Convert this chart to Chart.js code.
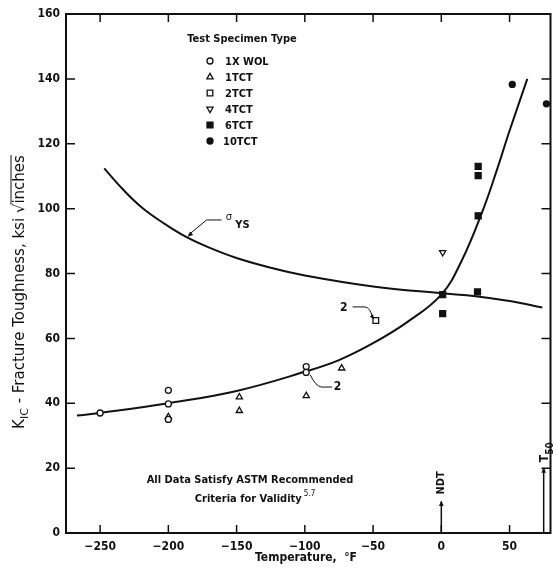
<!DOCTYPE html>
<html>
<head>
<meta charset="utf-8">
<script src="https://cdn.jsdelivr.net/npm/chart.js@4.4.0/dist/chart.umd.min.js"></script>
<style>
html, body { margin: 0; padding: 0; background: #fff; }
</style>
</head>
<body>
<canvas id="chart" width="556" height="572"></canvas>
<script>
// axis ticks
const xTicks = [-250, -200, -150, -100, -50, 0, 50];
const yTicks = [0, 20, 40, 60, 80, 100, 120, 140, 160];

// test specimen data, temperature (F) and K_IC (ksi sqrt(in))
const wolT = [-250, -200, -200, -200, -99, -99];
const wolK = [37, 39.8, 44, 35, 51.3, 49.5];
const tct1T = [-200, -148, -148, -99, -73];
const tct1K = [35.8, 41.9, 37.7, 42.3, 50.8];
const tct2T = [-48];
const tct2K = [65.5];
const tct4T = [1];
const tct4K = [86.5];
const tct6T = [1, 1, 27, 27, 27, 26.5];
const tct6K = [73.5, 67.6, 113, 110.2, 97.8, 74.3];
const tct10T = [52, 77];
const tct10K = [138.3, 132.3];

// fitted K_IC curve
const kicT = [-267, -250, -200, -150, -100, -75, -50, -25, 0, 15, 30, 40, 50, 63];
const kicK = [36.2, 37, 40, 43.8, 49.7, 53.3, 58.5, 65, 73.5, 84, 99, 111, 124, 140];
// yield strength curve
const ysT = [-247, -233, -219, -203, -187, -170, -150, -125, -100, -50, 0, 25, 50, 74];
const ysK = [112.4, 105.8, 100.2, 95.4, 91.3, 88, 84.8, 81.8, 79.4, 76, 73.9, 73, 71.5, 69.5];

// reference temperatures
const ndtT = 0, ndtK = 9.7;
const t50T = 75, t50K = 20;

const FONT = '"DejaVu Sans Condensed", "Liberation Sans Narrow", sans-serif';
const INK = '#111';

const pts = (xs, ys) => xs.map((x, i) => ({ x: x, y: ys[i] }));

const specimens = [
    { label: '1X WOL', xs: wolT, ys: wolK, pointStyle: 'circle', radius: 3, fill: '#fff', rotation: 0 },
    { label: '1TCT', xs: tct1T, ys: tct1K, pointStyle: 'triangle', radius: 3.6, fill: '#fff', rotation: 0 },
    { label: '2TCT', xs: tct2T, ys: tct2K, pointStyle: 'rect', radius: 4, fill: '#fff', rotation: 0 },
    { label: '4TCT', xs: tct4T, ys: tct4K, pointStyle: 'triangle', radius: 3.6, fill: '#fff', rotation: 180 },
    { label: '6TCT', xs: tct6T, ys: tct6K, pointStyle: 'rect', radius: 4.2, fill: INK, rotation: 0 },
    { label: '10TCT', xs: tct10T, ys: tct10K, pointStyle: 'circle', radius: 3, fill: INK, rotation: 0 }
];

const curveSet = (xs, ys) => ({
    data: pts(xs, ys),
    showLine: true,
    pointRadius: 0,
    borderColor: INK,
    borderWidth: 2,
    tension: 0.4,
    order: 2
});

const datasets = [curveSet(kicT, kicK), curveSet(ysT, ysK)];
specimens.forEach(s => {
    datasets.push({
        label: s.label,
        data: pts(s.xs, s.ys),
        pointStyle: s.pointStyle,
        pointRadius: s.radius,
        pointRotation: s.rotation,
        pointBackgroundColor: s.fill,
        pointBorderColor: INK,
        pointBorderWidth: 1.3,
        order: 1
    });
});

function arrowHead(ctx, x, y, ang, len) {
    ctx.beginPath();
    ctx.moveTo(x, y);
    ctx.lineTo(x - len * Math.cos(ang - 0.4), y - len * Math.sin(ang - 0.4));
    ctx.lineTo(x - len * Math.cos(ang + 0.4), y - len * Math.sin(ang + 0.4));
    ctx.closePath();
    ctx.fill();
}

const decor = {
    id: 'decor',
    beforeDatasetsDraw(chart) {
        const ctx = chart.ctx;
        const a = chart.chartArea;
        const xs = chart.scales.x, ys = chart.scales.y;
        ctx.save();
        ctx.strokeStyle = INK;
        ctx.lineWidth = 2;
        ctx.strokeRect(a.left, a.top, a.right - a.left, a.bottom - a.top);
        ctx.lineWidth = 1.5;
        ctx.beginPath();
        xTicks.forEach(v => {
            const px = xs.getPixelForValue(v);
            ctx.moveTo(px, a.bottom); ctx.lineTo(px, a.bottom - 8);
            ctx.moveTo(px, a.top); ctx.lineTo(px, a.top + 8);
        });
        yTicks.forEach(v => {
            if (v === 0 || v === 160) return;
            const py = ys.getPixelForValue(v);
            ctx.moveTo(a.left, py); ctx.lineTo(a.left + 9, py);
            ctx.moveTo(a.right, py); ctx.lineTo(a.right - 9, py);
        });
        ctx.stroke();
        ctx.restore();
    },
    afterDatasetsDraw(chart) {
        const ctx = chart.ctx;
        const a = chart.chartArea;
        const xs = chart.scales.x, ys = chart.scales.y;
        const X = v => xs.getPixelForValue(v);
        const Y = v => ys.getPixelForValue(v);
        ctx.save();
        ctx.fillStyle = INK;
        ctx.strokeStyle = INK;

        // legend
        ctx.font = 'bold 11px ' + FONT;
        ctx.textAlign = 'center';
        ctx.textBaseline = 'middle';
        ctx.fillText('Test Specimen Type', a.left + 176, a.top + 25);
        ctx.textAlign = 'left';
        specimens.forEach((s, i) => {
            const y = a.top + 47 + i * 16;
            ctx.fillStyle = s.fill;
            ctx.lineWidth = 1.3;
            Chart.helpers.drawPoint(ctx, { pointStyle: s.pointStyle, radius: s.radius, rotation: s.rotation, borderWidth: 1.3 }, a.left + 144, y);
            ctx.fillStyle = INK;
            ctx.fillText(s.label, a.left + (s.label === '10TCT' ? 157 : 159), y + 1);
        });

        // sigma YS leader
        ctx.lineWidth = 1;
        ctx.beginPath();
        ctx.moveTo(X(-184), Y(92.3));
        ctx.lineTo(X(-172), Y(96.5));
        ctx.lineTo(X(-161), Y(96.5));
        ctx.stroke();
        arrowHead(ctx, X(-186), Y(91.3), Math.atan2(Y(91.3) - Y(96.5), X(-186) - X(-172)), 6);
        ctx.font = '11px ' + FONT;
        ctx.textAlign = 'left';
        ctx.fillText('\u03c3', X(-158), Y(97.5));
        ctx.font = 'bold 11px ' + FONT;
        ctx.fillText('YS', X(-151), Y(95));

        // "2" leaders
        ctx.lineWidth = 1;
        ctx.beginPath();
        ctx.moveTo(X(-65), Y(69.7));
        ctx.lineTo(X(-56), Y(69.7));
        ctx.quadraticCurveTo(X(-52), Y(69.5), X(-50.5), Y(66.5));
        ctx.stroke();
        arrowHead(ctx, X(-49.2), Y(65.9), Math.PI * 0.3, 5);
        ctx.beginPath();
        ctx.moveTo(X(-80), Y(45));
        ctx.lineTo(X(-88), Y(45));
        ctx.quadraticCurveTo(X(-92), Y(45.3), X(-96), Y(48.7));
        ctx.stroke();
        ctx.font = 'bold 12px ' + FONT;
        ctx.textAlign = 'center';
        ctx.fillText('2', X(-71.5), Y(69.3));
        ctx.fillText('2', X(-76), Y(45));

        // NDT and T50 arrows
        ctx.lineWidth = 1.5;
        ctx.beginPath();
        ctx.moveTo(X(ndtT), Y(0)); ctx.lineTo(X(ndtT), Y(ndtK));
        ctx.moveTo(X(t50T), Y(0)); ctx.lineTo(X(t50T), Y(t50K));
        ctx.stroke();
        arrowHead(ctx, X(ndtT), Y(ndtK) - 1, -Math.PI / 2, 6);
        arrowHead(ctx, X(t50T), Y(t50K) - 1, -Math.PI / 2, 6);

        ctx.save();
        ctx.translate(X(ndtT), Y(ndtK) - 7);
        ctx.rotate(-Math.PI / 2);
        ctx.font = 'bold 11px ' + FONT;
        ctx.textAlign = 'left';
        ctx.textBaseline = 'middle';
        ctx.fillText('NDT', 0, 0);
        ctx.restore();

        ctx.save();
        ctx.translate(X(t50T) + 1, Y(t50K) - 6);
        ctx.rotate(-Math.PI / 2);
        ctx.textAlign = 'left';
        ctx.textBaseline = 'middle';
        ctx.font = 'bold 12px ' + FONT;
        ctx.fillText('T', 0, 0);
        const tw = ctx.measureText('T').width;
        ctx.font = 'bold 10px ' + FONT;
        ctx.fillText('50', tw, 6);
        ctx.restore();

        // validity note
        ctx.font = 'bold 11px ' + FONT;
        ctx.textAlign = 'center';
        ctx.textBaseline = 'middle';
        ctx.fillText('All Data Satisfy ASTM Recommended', a.left + 184, a.bottom - 53);
        const l2 = 'Criteria for Validity';
        const w2 = ctx.measureText(l2).width;
        ctx.font = '8px ' + FONT;
        const ws = ctx.measureText('5.7').width;
        const sx = a.left + 189 - (w2 + ws + 2) / 2;
        ctx.textAlign = 'left';
        ctx.fillText('5.7', sx + w2 + 2, a.bottom - 39);
        ctx.font = 'bold 11px ' + FONT;
        ctx.fillText(l2, sx, a.bottom - 34);

        ctx.restore();
    },
    afterDraw(chart) {
        const ctx = chart.ctx;
        const a = chart.chartArea;
        ctx.save();
        ctx.fillStyle = INK;
        // x title
        ctx.font = 'bold 12px ' + FONT;
        ctx.textAlign = 'center';
        ctx.textBaseline = 'middle';
        ctx.fillText('Temperature,  \u00b0F', a.left + 240, 558);

        // y title
        ctx.translate(24, 292);
        ctx.rotate(-Math.PI / 2);
        ctx.textAlign = 'left';
        ctx.textBaseline = 'alphabetic';
        const big = '15px "DejaVu Sans", sans-serif', small = '11px "DejaVu Sans", sans-serif';
        const parts = [
            { t: 'K', f: big, dy: 0 },
            { t: 'IC', f: small, dy: 4 },
            { t: ' - Fracture Toughness, ksi ', f: big, dy: 0 },
            { t: '\u221a', f: big, dy: 0 },
            { t: 'inches', f: big, dy: 0, over: true }
        ];
        let total = 0;
        parts.forEach(p => { ctx.font = p.f; p.w = ctx.measureText(p.t).width; total += p.w; });
        let cx = -total / 2;
        parts.forEach(p => {
            ctx.font = p.f;
            ctx.fillText(p.t, cx, p.dy);
            if (p.over) {
                ctx.strokeStyle = INK;
                ctx.lineWidth = 1;
                ctx.beginPath();
                ctx.moveTo(cx - 1, -13);
                ctx.lineTo(cx + p.w, -13);
                ctx.stroke();
            }
            cx += p.w;
        });
        ctx.restore();
    }
};

new Chart(document.getElementById('chart'), {
    type: 'scatter',
    data: { datasets: datasets },
    options: {
        responsive: false,
        animation: false,
        layout: { padding: { top: 14, right: 2, left: 0, bottom: 0 } },
        plugins: { legend: { display: false }, tooltip: { enabled: false } },
        scales: {
            x: {
                type: 'linear',
                min: -275,
                max: 80,
                afterBuildTicks: s => { s.ticks = xTicks.map(v => ({ value: v })); },
                afterFit: s => { s.height = 39; },
                grid: { display: false },
                border: { display: false },
                ticks: {
                    padding: -1,
                    color: INK,
                    font: { family: FONT, size: 12, weight: 'bold' },
                    callback: v => (v < 0 ? '\u2212' + Math.abs(v) : String(v))
                }
            },
            y: {
                type: 'linear',
                min: 0,
                max: 160,
                afterBuildTicks: s => { s.ticks = yTicks.map(v => ({ value: v })); },
                afterFit: s => { s.width = 66; },
                grid: { display: false },
                border: { display: false },
                ticks: {
                    padding: -2,
                    color: INK,
                    font: { family: FONT, size: 12, weight: 'bold' }
                }
            }
        }
    },
    plugins: [decor]
});
</script>
</body>
</html>
